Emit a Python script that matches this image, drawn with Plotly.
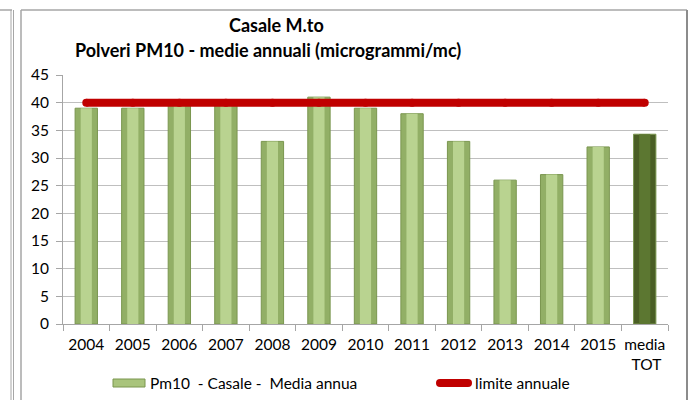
import plotly.graph_objects as go

# Annual PM10 means, Casale Monferrato (µg/m³)
categories = ["2004", "2005", "2006", "2007", "2008", "2009", "2010", "2011",
              "2012", "2013", "2014", "2015", "media TOT"]
pm10_values = [39, 39, 40, 40, 33, 41, 39, 38, 33, 26, 27, 32, 34.3]
annual_limit = [40] * len(categories)
tick_labels = ["2004", "2005", "2006", "2007", "2008", "2009", "2010", "2011",
               "2012", "2013", "2014", "2015", "media<br>\u00a0TOT"]

W, H = 691, 400
L, R, T, B = 63, 23, 75, 76
PW, PH = W - L - R, H - T - B

def px(x):
    return (x - L) / PW

def py(y):
    return (H - B - y) / PH

FONT = "Lato"

edge_colors = ["#92af66"] * 12 + ["#4a5e25"]
core_colors = ["#b9d390"] * 12 + ["#5c7731"]

fig = go.Figure()
fig.add_trace(go.Bar(
    x=categories, y=pm10_values, width=0.48,
    marker=dict(color=edge_colors, line=dict(color="#7a964f", width=1)),
    name="Pm10  - Casale -  Media annua", showlegend=False,
))
fig.add_trace(go.Bar(
    x=categories, y=pm10_values, width=0.24,
    marker=dict(color=core_colors, line=dict(width=0)),
    showlegend=False, hoverinfo="skip",
))
fig.add_trace(go.Scatter(
    x=categories, y=annual_limit, mode="lines+markers",
    line=dict(color="#c00000", width=8),
    marker=dict(color="#c00000", size=8),
    name="limite annuale", showlegend=False,
))

shapes = [
    # outer frame
    dict(type="line", xref="paper", yref="paper", x0=px(21), x1=px(21), y0=py(10), y1=py(402),
         line=dict(color="#a6a6a6", width=1.5)),
    dict(type="line", xref="paper", yref="paper", x0=px(21), x1=px(687), y0=py(10), y1=py(10),
         line=dict(color="#a6a6a6", width=1.5)),
    dict(type="line", xref="paper", yref="paper", x0=px(687), x1=px(687), y0=py(10), y1=py(402),
         line=dict(color="#8c8c8c", width=2)),
    # neighbouring frame edge on the left
    dict(type="line", xref="paper", yref="paper", x0=px(0), x1=px(12), y0=py(10), y1=py(10),
         line=dict(color="#a6a6a6", width=1.5)),
    dict(type="line", xref="paper", yref="paper", x0=px(11), x1=px(11), y0=py(10), y1=py(402),
         line=dict(color="#a6a6a6", width=1)),
    dict(type="line", xref="paper", yref="paper", x0=px(13.5), x1=px(13.5), y0=py(10), y1=py(402),
         line=dict(color="#a6a6a6", width=1)),
    # legend swatches
    dict(type="rect", xref="paper", yref="paper", x0=px(113), x1=px(145), y0=py(387), y1=py(379),
         fillcolor="#a9c47c", line=dict(color="#7a964f", width=1)),
    dict(type="line", xref="paper", yref="paper", x0=px(440), x1=px(468), y0=py(383), y1=py(383),
         line=dict(color="#c00000", width=8)),
    dict(type="circle", xref="paper", yref="paper", x0=px(436), x1=px(444), y0=py(387), y1=py(379),
         fillcolor="#c00000", line=dict(width=0)),
    dict(type="circle", xref="paper", yref="paper", x0=px(464), x1=px(472), y0=py(387), y1=py(379),
         fillcolor="#c00000", line=dict(width=0)),
]

annotations = [
    dict(text="<b>Casale M.to</b>", xref="paper", yref="paper", x=px(276), y=py(25),
         yanchor="middle", showarrow=False, font=dict(family=FONT, size=18, color="#000000")),
    dict(text="<b>Polveri PM10 - medie annuali (microgrammi/mc)</b>", xref="paper", yref="paper",
         x=px(268), y=py(50), yanchor="middle", showarrow=False,
         font=dict(family=FONT, size=18, color="#000000")),
    dict(text="Pm10\u00a0\u00a0-\u00a0Casale\u00a0-\u00a0\u00a0Media annua", xref="paper", yref="paper",
         x=px(148), y=py(383), xanchor="left", yanchor="middle", showarrow=False,
         font=dict(family=FONT, size=15.5, color="#000000")),
    dict(text="limite annuale", xref="paper", yref="paper",
         x=px(473), y=py(383), xanchor="left", yanchor="middle", showarrow=False,
         font=dict(family=FONT, size=15.5, color="#000000")),
]

fig.update_layout(
    width=W, height=H,
    margin=dict(l=L, r=R, t=T, b=B, pad=0, autoexpand=False),
    paper_bgcolor="#ffffff", plot_bgcolor="#ffffff",
    barmode="overlay",
    showlegend=False,
    font=dict(family=FONT, size=14, color="#000000"),
    shapes=shapes, annotations=annotations,
    xaxis=dict(
        type="category", tickvals=categories, ticktext=tick_labels,
        range=[-0.5, len(categories) - 0.5],
        showline=True, linecolor="#a6a6a6", linewidth=1,
        ticks="outside", tickson="boundaries", ticklen=6, tickcolor="#a6a6a6",
        showgrid=False, ticklabelstandoff=6, tickangle=0, automargin=False,
        tickfont=dict(family=FONT, size=15.5, color="#000000"),
    ),
    yaxis=dict(
        range=[0, 45], dtick=5, tick0=0,
        showline=True, linecolor="#a6a6a6", linewidth=1,
        ticks="outside", ticklen=6, tickcolor="#a6a6a6",
        showgrid=True, gridcolor="#bfbfbf", gridwidth=1,
        zeroline=False, ticklabelstandoff=4, automargin=False,
        tickfont=dict(family=FONT, size=15.5, color="#000000"),
    ),
)

fig.write_html("out.html")
